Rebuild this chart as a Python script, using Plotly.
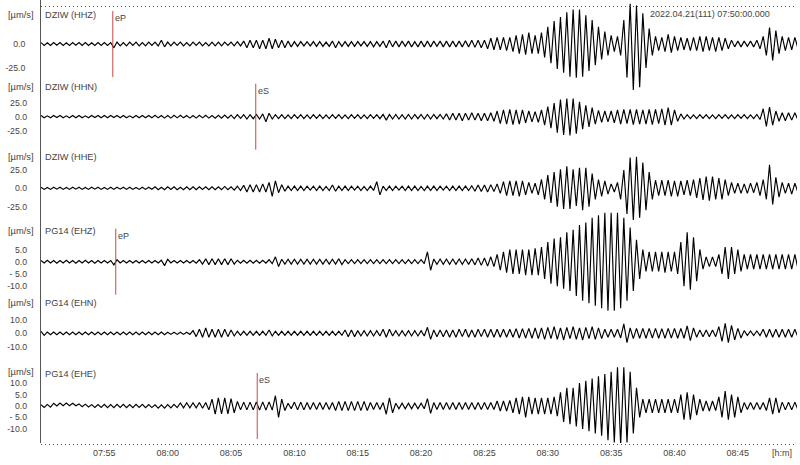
import pandas as pd
import plotly.graph_objects as go

# ---------------- data ----------------
start_time = pd.Timestamp("2022-04-21 07:50:00")
sample_step = pd.Timedelta(seconds=15)

channels = ["DZIW (HHZ)", "DZIW (HHN)", "DZIW (HHE)", "PG14 (EHZ)", "PG14 (EHN)", "PG14 (EHE)"]

# successive peaks / troughs, 4 per minute, [um/s]
dziw_hhz = [
    1.5,-1.5,1.2,-1.5, 1.5,-1.2,1.5,-1.5, 1.2,-1.5,1.5,-1.2, 1.5,-1.5,1.5,-1.5, 1.2,-1.5,1.5,-1.5,
    1.5,-1.5,1.5,-4, 2,-2,1.5,-2, 2,-1.5,2,-2, 1.5,-2,2,-1.5, 2,-2,4,-3,
    2,-2,2,-1.5, 2,-2,1.5,-2, 2,-1.5,2,-2, 1.5,-2,2,-2, 2,-2,2,-1.5,
    2,-2,2.5,-2, 3,-4,4,-4, 4,-5,4,-5, 6,-5,5,-4, 4,-4,3,-3,
    2.5,-2.5,2.5,-2, 2.5,-2,2.5,-2.5, 2.5,-2.5,2,-2.5, 3,-4,2.5,-2.5, 2.5,-2.5,2.5,-2.5,
    2.5,-2,2.5,-2.5, 2.5,-3,2.5,-2.5, 3,-4,4,-3, 3,-3,3,-2.5, 3,-3,2.5,-3,
    3,-3,3,-3, 3,-2.5,3,-3, 3,-3,3,-3, 3,-3,3.5,-3, 4,-3.5,4,-4,
    4,-5,6,-6, 7,-6,7,-7, 7,-8,9,-10, 10,-11,12,-10, 9,-10,12,-14,
    18,-20,24,-26, 28,-30,33,-34, 36,-35,36,-34, 30,-28,25,-22, 18,-16,13,-12,
    9,-8,8,-12, 25,-35,42,-48, 40,-45,32,-25, 16,-12,8,-7, 7,-8,10,-9,
    8,-7,7,-6, 6,-7,7,-7, 8,-8,8,-7, 7,-8,7,-7, 6,-5,4,-3,
    3,-3,3,-2.5, 3,-3,4,-5, 8,-12,17,-17, 14,-10,8,-7, 7,-6,7,-5,
]
dziw_hhn = [
    2,-2,1.5,-2, 2,-1.5,2,-2, 1.5,-2,2,-2, 2,-2,1.5,-2, 2,-1.5,2,-2,
    2,-2,2,-1.5, 2,-2,2,-2, 1.5,-2,2,-2, 2,-2,2,-2, 2.5,-2,2,-2.5,
    2,-2.5,2.5,-2, 2.5,-2,2,-2.5, 2,-2.5,2.5,-2, 2.5,-2.5,2,-2.5, 2.5,-2.5,3,-2.5,
    3,-3.5,3.5,-3, 3.5,-4,3.5,-3.5, 4,-4,5,-9, 6,-4,3.5,-3.5, 3.5,-3.5,3,-3.5,
    3.5,-3,3.5,-3.5, 3,-3.5,3.5,-3, 3.5,-3.5,3,-3.5, 3.5,-3,3.5,-3.5, 3,-3.5,3.5,-3,
    3.5,-3.5,3,-3.5, 3.5,-3,3.5,-3.5, 4,-6,4,-4, 4,-4,3.5,-4, 4,-4,4,-3.5,
    4,-4,4,-4, 4,-3.5,4,-4, 5,-6,6,-6, 6,-7,6,-6, 7,-6,6,-7,
    6,-7,7,-8, 10,-12,12,-13, 13,-14,12,-13, 12,-11,10,-9, 9,-10,12,-15,
    18,-20,24,-28, 30,-32,32,-33, 32,-30,26,-22, 20,-18,16,-13, 11,-10,10,-9,
    10,-11,12,-13, 13,-12,13,-14, 13,-13,12,-13, 13,-14,13,-12, 14,-15,16,-15,
    12,-8,5,-4, 3.5,-3.5,3,-3.5, 3.5,-3,3.5,-3.5, 3,-3.5,3.5,-3, 3.5,-3.5,3,-3.5,
    3.5,-3,3.5,-3.5, 3,-3.5,4,-5, 14,-17,17,-15, 10,-8,7,-7, 7,-6,7,-6,
]
dziw_hhe = [
    1.5,-1.5,1.2,-1.5, 1.5,-1.2,1.5,-1.5, 1.2,-1.5,1.5,-1.2, 1.5,-1.5,1.2,-1.5, 1.5,-1.2,1.5,-1.5,
    1.2,-1.5,1.5,-1.5, 1.5,-1.2,1.5,-1.5, 1.5,-1.5,1.2,-1.5, 1.5,-1.5,1.5,-1.2, 2,-2,1.5,-2,
    2,-1.5,2,-2, 1.5,-2,2,-2, 2,-2,2,-1.5, 2,-2,2,-2, 2,-2,2.5,-2,
    2,-2.5,3,-3, 4,-5,5,-5, 5,-5,6,-5, 8,-11,10,-6, 5,-4,3,-3,
    3,-3,3,-3, 3,-2.5,3,-3, 3,-3,2.5,-3, 4.5,-4,3,-3, 3,-3,3,-2.5,
    3,-3,2.5,-3, 3,-3,9,-9, 3,-3,3,-3, 3,-2.5,3,-3, 3,-3,3,-3,
    2.5,-3,3,-3, 3,-3,3,-2.5, 3,-3,3,-3, 3,-3,3,-3, 3.5,-4,4.5,-4.5,
    4.5,-5,5,-4.5, 6,-7,9,-10, 10,-10,10,-11, 10,-9,8,-7, 7,-9,12,-15,
    18,-20,22,-25, 26,-28,30,-28, 26,-24,28,-30, 28,-25,20,-15, 12,-11,10,-8,
    6,-5,8,-15, 25,-35,42,-43, 43,-40,35,-30, 22,-15,11,-10, 11,-10,11,-11,
    10,-11,10,-9, 11,-10,12,-13, 14,-16,16,-17, 16,-15,14,-15, 12,-10,8,-7,
    7,-7,6,-7, 7,-6,8,-10, 12,-15,32,-22, 15,-12,8,-7, 7,-8,7,-6,
]
pg14_ehz = [
    0.5,-0.5,0.6,-0.5, 0.5,-0.6,0.5,-0.5, 0.6,-0.5,0.5,-0.6, 0.5,-0.5,0.6,-0.5, 0.5,-0.6,0.5,-0.5,
    0.5,-0.5,0.5,-1.3, 0.8,-0.5,0.5,-0.5, 0.5,-0.5,0.5,-0.5, 0.5,-0.5,0.5,-0.5, 0.5,-0.5,0.6,-1.6,
    1,-0.5,0.5,-0.5, 0.5,-0.5,0.5,-0.5, 0.5,-0.6,0.8,-1, 1.2,-1.2,1.2,-1.2, 1.2,-1.2,1.2,-1.2,
    1.2,-1,0.6,-0.6, 0.6,-0.6,0.6,-0.6, 0.6,-0.6,0.6,-0.6, 0.8,-0.8,2,-2, 1,-1,1,-1,
    1,-1,1,-1, 1,-1,1,-1, 1,-1,1,-1, 1,-1,1.2,-1.2, 0.8,-0.8,0.8,-0.8,
    0.8,-0.8,0.8,-0.8, 0.8,-0.8,0.8,-0.8, 0.8,-0.8,0.8,-0.8, 0.8,-0.8,0.8,-0.8, 0.8,-0.8,0.8,-0.8,
    0.8,-0.8,4,-3.5, 1.1,-1.1,1.1,-1.1, 1.1,-1.1,1.1,-1.1, 1.1,-1.1,1.1,-1.1, 1.2,-1.3,1.5,-1.5,
    1.5,-1.8,2,-2, 3,-3.5,4,-4.5, 5,-5,5,-5, 5,-5.5,5,-5.5, 5.5,-5.5,6,-7,
    8,-9,9.5,-10, 10,-11,12,-12, 13,-14,15,-16, 16,-17,18,-18, 19,-19,20,-20,
    20,-20,20,-19, 18,-16,14,-12, 9,-7,5,-4, 4,-4,4,-4, 4,-4.5,4,-4,
    4,-5,8,-10, 12,-11.5,10,-8, 5,-3,2,-2, 2,-2,3,-5, 6,-7,6,-5,
    5,-4,3,-3, 3,-3,3,-3, 3,-3,3,-3, 3,-3,3,-3, 3,-3,3,-3,
]
pg14_ehn = [
    1.5,-1.5,1,-1, 1,-1,1,-1, 1,-1,1,-1, 1,-1,1,-1, 1,-1,1,-1,
    1,-1,1,-1, 1,-1,1,-1, 1,-1,1,-1, 1,-1,1,-1, 1,-1,1,-1,
    0.8,-0.8,0.8,-0.8, 0.8,-0.8,0.8,-0.8, 2,-2.5,3,-3, 4,-3,3,-3, 3,-3,3,-2.5,
    2.5,-2,1.5,-1.5, 1.5,-1.5,1.5,-1.5, 1.5,-1.5,1.5,-1.5, 2.5,-2,1.5,-1.5, 1.5,-1.5,1.5,-1.5,
    1.5,-1.5,1.5,-1.5, 1.5,-1.5,1.5,-1.5, 1.5,-1.5,1.5,-1.5, 1.5,-1.5,1.5,-1.5, 2.5,-2.5,2.5,-2.5,
    2,-2,2,-2, 2,-2,2,-2, 3,-3,3,-2, 2,-2,2,-2, 2,-2,2,-2,
    2,-2,4.5,-4.5, 2.5,-2.5,2.5,-2.5, 2.5,-3,2.5,-3, 3,-2.5,3,-3, 2.5,-3,3,-2.5,
    3,-3,3,-3, 3,-3,3,-3, 3,-3,3.5,-3.5, 3.5,-3.5,3.7,-3.7, 4,-4,4,-4.5,
    4.5,-4,5,-4.5, 4,-5,4.5,-4, 5,-4.5,4,-5, 4.5,-4,5,-4.5, 4,-4,3,-3,
    3,-3,3,-3.5, 7,-7,4,-4, 3.7,-3.7,3.7,-3.7, 3.7,-3.5,3.7,-3.7, 3.5,-3.7,3.7,-3.5,
    3.7,-3.7,3.7,-3.7, 5.5,-5.5,4,-3, 2.5,-2.5,2.5,-2.5, 2.5,-2.5,5,-6, 7.5,-7,6,-5,
    3.7,-3.5,2,-1.7, 1.7,-1.7,1.7,-1.7, 3,-3,3,-3, 3,-3,3,-3, 3,-3,3,-3,
]
pg14_ehe = [
    0.6,-0.6,0.7,-0.5, 1.2,0,1.3,0.1, 1.3,0.1,1.2,0.1, 0.9,-0.3,0.8,-0.4, 0.6,-0.6,0.6,-0.6,
    0.7,-0.7,0.6,-0.7, 0.7,-0.6,0.7,-0.7, 0.6,-0.7,0.7,-0.6, 0.7,-0.7,0.6,-0.7, 0.5,-0.9,0.5,-0.9,
    0.6,-0.8,0.7,-0.7, 1.3,-0.8,1.4,-0.8, 1.4,-0.8,1.5,-1, 1.5,-1.7,3,-3.6, 3.6,-3.5,3.6,-3.4,
    3.2,-3,2,-1.7, 1.7,-1.7,1.7,-1.7, 1.8,-1.8,1.8,-1.8, 1.8,-1.8,4.5,-5, 3,-2,1.2,-1.2,
    1.7,-1.7,1.7,-1.7, 1.5,-1.5,1.5,-1.5, 1.5,-1.5,1.5,-1.5, 1.5,-2,2,-2, 2,-2,2,-2,
    2,-2,2,-2, 1.5,-1.5,1.5,-1.5, 1.5,-3.6,3.6,-3, 1.2,-1.2,1.2,-1.2, 1.2,-1.2,1.2,-1.2,
    1.2,-1.2,3.2,-3.2, 1.5,-1.5,1.5,-1.5, 1.5,-1.5,1.5,-1.5, 1.5,-1.5,1.5,-1.5, 1.5,-1.5,1.5,-1.5,
    1.5,-1.5,1.5,-1.5, 2.2,-2.2,2.2,-2.2, 2.5,-3,3.6,-3.6, 4,-5,4,-3.6, 3.6,-3.6,3.6,-3.6,
    3.6,-3.6,4,-4.5, 6,-7,8,-8, 8,-9,10,-10, 11,-11,12,-12, 13,-13,14,-15,
    15,-16,17,-17, 17,-16,15,-12, 8,-5,3,-3, 3,-3,3,-3, 3,-3,3,-3,
    3,-3,5,-6, 6,-6,5,-4, 3,-2.2,2.2,-2.2, 2.2,-2,4,-5, 6.5,-6,5,-5,
    4,-3,1.5,-1.5, 1.5,-1.5,1.5,-1.5, 1.5,-2,3.6,-3.6, 3.6,-3,1.7,-1.7, 1.7,-1.7,1.7,-1.7,
]
series = [dziw_hhz, dziw_hhn, dziw_hhe, pg14_ehz, pg14_ehn, pg14_ehe]

y_tick_values = [[0, -25], [25, 0, -25], [25, 0, -25], [5, 0, -5, -10], [10, 0, -10], [10, 5, 0, -5, -10]]
y_tick_labels = [["0.0", "-25.0"], ["25.0", "0.0", "-25.0"], ["25.0", "0.0", "-25.0"],
                 ["5.0", "0.0", "- 5.0", "-10.0"], ["10.0", "0.0", "-10.0"],
                 ["10.0", "5.0", "0.0", "- 5.0", "-10.0"]]
x_tick_labels = ["07:55", "08:00", "08:05", "08:10", "08:15", "08:20", "08:25",
                 "08:30", "08:35", "08:40", "08:45"]

picks = [(0, "07:55:40", "eP"), (1, "08:06:57", "eS"), (3, "07:55:54", "eP"), (5, "08:07:04", "eS")]

header_text = "2022.04.21(111) 07:50:00.000"
unit_text = "[µm/s]"
time_unit_text = "[h:m]"

# ---------------- layout constants ----------------
W, H = 800, 465
ML, MR, MT, MB = 41, 3, 0, 22
PW, PH = W - ML - MR, H - MT - MB
baseline_px = [44, 116.7, 188.3, 261.7, 333.3, 406]
label_px = [15, 87, 157.5, 231, 303, 374]
unit_px = [15, 87, 157.5, 231, 303, 372]
px_per_unit = [0.96, 0.568, 0.734, 2.447, 1.335, 2.285]
px_per_min = 12.67
FONT = "Liberation Sans, Arial, sans-serif"
TXT = "#444444"
PICK = "#cc4444"

fig = go.Figure()
for k, vals in enumerate(series):
    times = [start_time + i * sample_step for i in range(len(vals))]
    fig.add_trace(go.Scatter(
        x=times, y=vals, mode="lines",
        line=dict(color="black", width=1.15),
        yaxis="y" if k == 0 else f"y{k + 1}",
        showlegend=False, hoverinfo="skip"))

x_end = start_time + pd.Timedelta(minutes=PW / px_per_min)
day = start_time.strftime("%Y-%m-%d")

layout = dict(
    width=W, height=H,
    margin=dict(l=ML, r=MR, t=MT, b=MB, autoexpand=False),
    paper_bgcolor="white", plot_bgcolor="white",
    font=dict(family=FONT, size=9, color=TXT),
    xaxis=dict(range=[start_time, x_end], showgrid=False, zeroline=False, showline=False,
               automargin=False, ticklabelstandoff=3,
               tickvals=[pd.Timestamp(f"{day} {s}") for s in x_tick_labels],
               ticktext=x_tick_labels, ticks="", tickfont=dict(size=9, color=TXT)),
)
for k in range(6):
    b = baseline_px[k] - MT
    s = px_per_unit[k]
    ax = dict(range=[-(PH - b) / s, b / s], showgrid=False, zeroline=False,
              automargin=False,
              tickvals=y_tick_values[k], ticktext=y_tick_labels[k], ticks="",
              tickfont=dict(size=8.7, color=TXT), ticklabelstandoff=13,
              showline=(k == 0), linecolor="#555555", linewidth=1, fixedrange=True)
    if k > 0:
        ax["overlaying"] = "y"
    layout["yaxis" if k == 0 else f"yaxis{k + 1}"] = ax
fig.update_layout(**layout)

annotations = []
shapes = []
for k, name in enumerate(channels):
    annotations.append(dict(text=name, xref="paper", x=0, xshift=2, xanchor="left",
                            yref="paper", y=1 - (label_px[k] - MT) / PH, yanchor="middle",
                            showarrow=False, font=dict(size=9.2, color=TXT)))
    annotations.append(dict(text=unit_text, xref="paper", x=-20 / PW, xanchor="center",
                            yref="paper", y=1 - (unit_px[k] - MT) / PH, yanchor="middle",
                            showarrow=False, font=dict(size=9.3, color=TXT)))

for k, tstr, phase in picks:
    yref = "y" if k == 0 else f"y{k + 1}"
    s = px_per_unit[k]
    tp = pd.Timestamp(f"{day} {tstr}")
    shapes.append(dict(type="line", xref="x", yref=yref, x0=tp, x1=tp,
                       y0=-33 / s, y1=33 / s, line=dict(color=PICK, width=1)))
    annotations.append(dict(text=phase, xref="x", x=tp, xanchor="left", xshift=0,
                            yref=yref, y=33 / s, yanchor="top", yshift=0, showarrow=False,
                            font=dict(size=9, color=TXT)))

# dotted frame lines top and bottom
shapes.append(dict(type="line", xref="paper", yref="paper", x0=0, x1=1,
                   y0=1 - 6.5 / PH, y1=1 - 6.5 / PH, line=dict(color="#555555", width=1, dash="1px,3px")))
shapes.append(dict(type="line", xref="paper", yref="paper", x0=0, x1=1,
                   y0=-1.5 / PH, y1=-1.5 / PH, line=dict(color="#555555", width=1, dash="1px,3px")))

annotations.append(dict(text=header_text, xref="paper", x=(648 - ML) / PW, xanchor="left",
                        yref="paper", y=1 - 14 / PH, yanchor="middle", showarrow=False,
                        bgcolor="white", borderpad=1, font=dict(size=9, color=TXT)))
annotations.append(dict(text=time_unit_text, xref="paper", x=(782 - ML) / PW, xanchor="center",
                        yref="paper", y=-10 / PH, yanchor="middle", showarrow=False,
                        font=dict(size=9, color=TXT)))

fig.update_layout(annotations=annotations, shapes=shapes)
fig.write_html("out.html", config={"displayModeBar": False},
               post_script="document.body.style.margin='0';document.body.style.overflow='hidden';")
